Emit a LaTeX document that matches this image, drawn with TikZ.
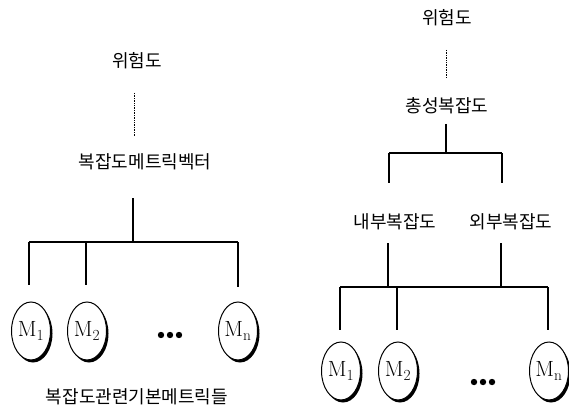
\documentclass[tikz,border=0pt]{standalone}
\usepackage{fontspec}
\newfontfamily\kr{Noto Sans CJK KR}
\usetikzlibrary{shapes.geometric,shadows}
\begin{document}
\begin{tikzpicture}[x=1pt,y=-1pt,
  lbl/.style={font=\kr\fontsize{18}{18}\selectfont, inner sep=0pt},
  modnode/.style={ellipse, draw, line width=1pt, minimum width=39pt, minimum height=58pt,
    fill=white, inner sep=0pt, font=\fontsize{22}{22}\selectfont,
    drop shadow={shadow xshift=2pt, shadow yshift=-2.5pt, fill=black, opacity=1}},
  conn/.style={line width=1.3pt},
  dotl/.style={line width=0.7pt, densely dotted},
  dotc/.style={fill=black, draw=none}]
\useasboundingbox (0,0) rectangle (569,414);

% ---------- left ----------
\node[lbl] (Lr) at (137,61) {위험도};
\node[lbl] (Lv) at (145,162) {복잡도메트릭벡터};
\coordinate (Ld1) at (134,93);
\coordinate (Ld2) at (134,136);
\draw[dotl] (Ld1) -- (Ld2);
\coordinate (Lt) at (133,198);
\coordinate (Lj) at (133,242);
\draw[conn] (Lt) -- (Lj);
\coordinate (Lh1) at (29,242);
\coordinate (Lh2) at (86,242);
\coordinate (Lh3) at (238,242);
\draw[conn] (Lh1) -- (Lh3);
\node[modnode] (L1) at (31,331) {$\mathrm{M}_{\mathrm{1}}$};
\node[modnode] (L2) at (87,331) {$\mathrm{M}_{\mathrm{2}}$};
\node[modnode] (Ln) at (238,331) {$\mathrm{M}_{\mathrm{n}}$};
\coordinate (Lb1) at (29,285);
\coordinate (Lb2) at (86,285);
\coordinate (Lb3) at (238,287);
\draw[conn] (Lh1) -- (Lb1);
\draw[conn] (Lh2) -- (Lb2);
\draw[conn] (Lh3) -- (Lb3);
\fill[dotc] (161,335) circle (3.2) (170,335) circle (3.2) (179,335) circle (3.2);
\node[lbl] (Lbot) at (137,397) {복잡도관련기본메트릭들};

% ---------- right ----------
\node[lbl] (Rr) at (447,18) {위험도};
\coordinate (Rd1) at (446,50);
\coordinate (Rd2) at (446,78);
\draw[dotl] (Rd1) -- (Rd2);
\node[lbl] (Rt) at (447,106) {총성복잡도};
\coordinate (Rt1) at (446,124);
\coordinate (Rj) at (446,153);
\draw[conn] (Rt1) -- (Rj);
\coordinate (Rh1) at (389,153);
\coordinate (Rh2) at (502,153);
\draw[conn] (Rh1) -- (Rh2);
\coordinate (Rv1) at (389,183);
\coordinate (Rv2) at (502,183);
\draw[conn] (Rh1) -- (Rv1);
\draw[conn] (Rh2) -- (Rv2);
\node[lbl] (Rin) at (395,222) {내부복잡도};
\node[lbl] (Rout) at (511,222) {외부복잡도};
\coordinate (Ru1) at (388,243);
\coordinate (Ru2) at (501,243);
\coordinate (Rm1) at (388,287);
\coordinate (Rm2) at (501,287);
\draw[conn] (Ru1) -- (Rm1);
\draw[conn] (Ru2) -- (Rm2);
\coordinate (Rg1) at (340,287);
\coordinate (Rg2) at (397,287);
\coordinate (Rg3) at (548,287);
\draw[conn] (Rg1) -- (Rg3);
\node[modnode] (R1) at (341,371) {$\mathrm{M}_{\mathrm{1}}$};
\node[modnode] (R2) at (398,371) {$\mathrm{M}_{\mathrm{2}}$};
\node[modnode] (Rn) at (549,371) {$\mathrm{M}_{\mathrm{n}}$};
\coordinate (Rb1) at (340,330);
\coordinate (Rb2) at (397,330);
\coordinate (Rb3) at (548,330);
\draw[conn] (Rg1) -- (Rb1);
\draw[conn] (Rg2) -- (Rb2);
\draw[conn] (Rg3) -- (Rb3);
\fill[dotc] (474,382) circle (3.2) (483,382) circle (3.2) (492,382) circle (3.2);
\end{tikzpicture}
\end{document}
